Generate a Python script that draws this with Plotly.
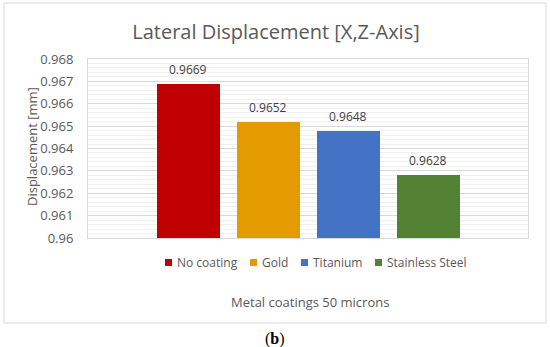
import plotly.graph_objects as go

# ---- data ----
categories = ["No coating", "Gold", "Titanium", "Stainless Steel"]
values = [0.9669, 0.9652, 0.9648, 0.9628]
colors = ["#C00000", "#E49B00", "#4472C4", "#548235"]
tick_vals = [0.960, 0.961, 0.962, 0.963, 0.964, 0.965, 0.966, 0.967, 0.968]
tick_text = ["0.96", "0.961", "0.962", "0.963", "0.964", "0.965", "0.966", "0.967", "0.968"]
title_text = "Lateral Displacement [X,Z-Axis]"
y_title = "Displacement [mm]"
x_title = "Metal coatings 50 microns"
panel_label = "(<b>b</b>)"

W, H = 550, 347
L, R, T, B = 88, 22, 59, 109
PW, PH = W - L - R, H - T - B
FONT = "Open Sans"
TXT = "#595959"


def px(x):
    return (x - L) / PW


def py(y):
    return (H - B - y) / PH


fig = go.Figure()
for cat, val, col in zip(categories, values, colors):
    fig.add_trace(go.Bar(x=[cat], y=[val], name=cat, marker=dict(color=col, line=dict(width=0)),
                         width=0.7875, showlegend=False))

annotations = []
for cat, val in zip(categories, values):
    annotations.append(dict(x=cat, y=val, xref="x", yref="y", text=f"{val:.4f}", showarrow=False,
                            yanchor="bottom", yshift=4, font=dict(family=FONT, size=12, color="#404040")))

# manual legend (Excel style)
legend_marker_x = [165, 250, 301, 375]
shapes = []
for cat, col, mx in zip(categories, colors, legend_marker_x):
    shapes.append(dict(type="rect", xref="paper", yref="paper", x0=px(mx), x1=px(mx + 7),
                       y0=py(266), y1=py(259), fillcolor=col, line=dict(width=0)))
    annotations.append(dict(x=px(mx + 10), y=py(262.5), xref="paper", yref="paper", text=cat,
                            showarrow=False, xanchor="left", yanchor="middle",
                            font=dict(family=FONT, size=12, color=TXT)))

annotations.append(dict(x=px(310), y=py(302), xref="paper", yref="paper", text=x_title, showarrow=False,
                        xanchor="center", yanchor="middle", font=dict(family=FONT, size=13, color=TXT)))
annotations.append(dict(x=px(32), y=py(147), xref="paper", yref="paper", text=y_title, showarrow=False,
                        textangle=-90, xanchor="center", yanchor="middle",
                        font=dict(family=FONT, size=13, color=TXT)))
annotations.append(dict(x=px(275), y=py(339), xref="paper", yref="paper", text=panel_label, showarrow=False,
                        xanchor="center", yanchor="middle",
                        font=dict(family="Liberation Serif", size=16, color="#000000")))

# outer chart border
shapes.append(dict(type="rect", xref="paper", yref="paper", x0=px(4), x1=px(546), y0=py(323), y1=py(3),
                   line=dict(color="#D9D9D9", width=1), fillcolor="rgba(0,0,0,0)", layer="below"))

fig.update_layout(
    width=W, height=H,
    margin=dict(l=L, r=R, t=T, b=B, pad=0),
    paper_bgcolor="white", plot_bgcolor="white",
    title=dict(text=title_text, x=276 / W, y=1 - 32 / H, xref="container", yref="container",
               xanchor="center", yanchor="middle", font=dict(family=FONT, size=20, color=TXT)),
    showlegend=False,
    xaxis=dict(range=[-1.25, 4.25], showticklabels=False, ticks="", showgrid=False, zeroline=False,
               showline=True, mirror=True, linecolor="#D9D9D9", linewidth=1, fixedrange=True),
    yaxis=dict(range=[0.960, 0.968], tickmode="array", tickvals=tick_vals, ticktext=tick_text,
               ticks="", ticklabelstandoff=11, showgrid=True, gridcolor="#D9D9D9", gridwidth=1,
               zeroline=False, showline=True, mirror=True, linecolor="#D9D9D9", linewidth=1,
               tickfont=dict(family=FONT, size=13, color=TXT),
               minor=dict(tickmode="linear", tick0=0.960, dtick=0.0002, showgrid=True,
                          gridcolor="#F0F0F0", gridwidth=1, ticks="")),
    annotations=annotations,
    shapes=shapes,
    bargap=0,
)

fig.write_html("out.html", config={"displayModeBar": False},
               post_script="document.body.style.margin='0';document.body.style.overflow='hidden';")
